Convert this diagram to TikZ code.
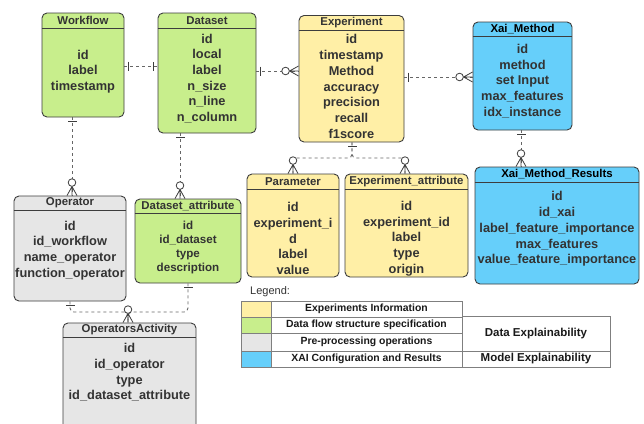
\documentclass[tikz,border=0pt]{standalone}
\usepackage{fontspec}
\setmainfont{Liberation Sans}
\usetikzlibrary{fit,calc}
\definecolor{cyel}{HTML}{FFEFA6}
\definecolor{cgrn}{HTML}{C8EE8C}
\definecolor{cgry}{HTML}{E6E6E6}
\definecolor{cblu}{HTML}{66CFFA}
\definecolor{cedge}{HTML}{3D3D3D}
\definecolor{ctxt}{HTML}{333333}
\definecolor{cconn}{HTML}{666666}
\definecolor{ccell}{HTML}{7F7F7F}
\begin{document}
\begin{tikzpicture}[x=1bp,y=-1bp,
 ebox/.style={draw=cedge, line width=0.9bp, rounded corners=5bp, inner sep=0pt},
 sepline/.style={draw=cedge, line width=0.9bp},
 htext/.style={font=\fontsize{11.4bp}{13bp}\selectfont\bfseries, text=ctxt, inner sep=0pt},
 hblack/.style={htext, text=black},
 btext/.style={font=\fontsize{12.8bp}{15.7bp}\selectfont\bfseries, text=ctxt, align=center, inner sep=0pt},
 bsmall/.style={btext, font=\fontsize{11.6bp}{14bp}\selectfont\bfseries},
 conn/.style={draw=cconn, line width=0.9bp, dash pattern=on 3bp off 3bp},
 mk/.style={draw=cedge, line width=0.8bp, solid},
 onebar/.pic={\draw[mk] (4,-4.5)--(4,4.5);},
 zeromany/.pic={\draw[mk] (0,-5)--(9,0)--(0,5) (0,0)--(9,0); \draw[mk, fill=white] (13,0) circle (3.8);},
 cell/.style={draw=ccell, line width=0.8bp, inner sep=0pt},
 ltext/.style={font=\fontsize{10.4bp}{12bp}\selectfont\bfseries, text=black!90, inner sep=0pt},
 rtext/.style={font=\fontsize{11.5bp}{13bp}\selectfont\bfseries, text=black!90, inner sep=0pt}
]
\useasboundingbox (0,0) rectangle (644,423);
\clip (0,0) rectangle (644,423);
\fill[white] (0,0) rectangle (644,423);

% ---------- entities ----------
% Workflow
\node[ebox, fill=cgrn, fit={(42,13)(124,117)}] (wf) {};
\draw[sepline] (wf.west |- 0,28) -- (wf.east |- 0,28);
\node[htext] (wfh) at (83,20.5) {Workflow};
\node[btext] (wfb) at (83,71.5) {id\\label\\timestamp};

% Dataset
\node[ebox, fill=cgrn, fit={(158,13)(256,133)}] (ds) {};
\draw[sepline] (ds.west |- 0,28) -- (ds.east |- 0,28);
\node[htext] (dsh) at (207,20.5) {Dataset};
\node[btext] (dsb) at (207,78.5) {id\\local\\label\\n\_size\\n\_line\\n\_column};

% Experiment
\node[ebox, fill=cyel, fit={(299,15.5)(404,142)}] (ex) {};
\draw[sepline] (ex.west |- 0,30) -- (ex.east |- 0,30);
\node[htext] (exh) at (351.5,22.5) {Experiment};
\node[btext] (exb) at (351.5,86.5) {id\\timestamp\\Method\\accuracy\\precision\\recall\\f1score};

% Xai_Method
\node[ebox, fill=cblu, fit={(473,22)(572,130)}] (xm) {};
\draw[sepline] (xm.west |- 0,36) -- (xm.east |- 0,36);
\node[hblack] (xmh) at (522.5,29) {Xai\_Method};
\node[btext] (xmb) at (522.5,81) {id\\method\\set Input\\max\_features\\idx\_instance};

% Operator
\node[ebox, fill=cgry, fit={(14,196)(126,301)}] (op) {};
\draw[sepline] (op.west |- 0,210) -- (op.east |- 0,210);
\node[htext] (oph) at (70,203) {Operator};
\node[btext] (opb) at (70,250.5) {id\\id\_workflow\\name\_operator\\function\_operator};

% Dataset_attribute
\node[ebox, fill=cgrn, fit={(135,199)(241,283)}] (da) {};
\draw[sepline] (da.west |- 0,213) -- (da.east |- 0,213);
\node[htext] (dah) at (188,206) {Dataset\_attribute};
\node[bsmall] (dab) at (188,247) {id\\id\_dataset\\type\\description};

% Parameter
\node[ebox, fill=cyel, fit={(247,174)(339,277)}] (pa) {};
\draw[sepline] (pa.west |- 0,189) -- (pa.east |- 0,189);
\node[htext] (pah) at (293,181.5) {Parameter};
\node[btext] (pab) at (293,238.5) {id\\experiment\_i\\d\\label\\value};

% Experiment_attribute
\node[ebox, fill=cyel, fit={(345,174)(468,277)}] (ea) {};
\draw[sepline] (ea.west |- 0,189) -- (ea.east |- 0,189);
\node[htext] (eah) at (406.5,181.5) {Experiment\_attribute};
\node[btext] (eab) at (406.5,238.5) {id\\experiment\_id\\label\\type\\origin};

% Xai_Method_Results
\node[ebox, fill=cblu, fit={(475,167)(639,284)}] (xr) {};
\draw[sepline] (xr.west |- 0,182) -- (xr.east |- 0,182);
\node[hblack] (xrh) at (557,174.5) {Xai\_Method\_Results};
\node[btext] (xrb) at (557,229) {id\\id\_xai\\label\_feature\_importance\\max\_features\\value\_feature\_importance};

% OperatorsActivity
\node[ebox, fill=cgry, fit={(63,323)(196,432)}] (oa) {};
\draw[sepline] (oa.west |- 0,337) -- (oa.east |- 0,337);
\node[htext] (oah) at (129.5,330) {OperatorsActivity};
\node[btext] (oab) at (129.5,372.5) {id\\id\_operator\\type\\id\_dataset\_attribute};

% ---------- connectors ----------
\draw[conn] (wf.east |- 0,66) -- (ds.west |- 0,66);
\pic at (wf.east |- 0,66) {onebar};
\pic[rotate=180] at (ds.west |- 0,66) {onebar};

\draw[conn] (ds.east |- 0,71) -- (ex.west |- 0,71);
\pic at (ds.east |- 0,71) {onebar};
\pic[rotate=180] at (ex.west |- 0,71) {zeromany};

\draw[conn] (ex.east |- 0,77) -- (xm.west |- 0,77);
\pic at (ex.east |- 0,77) {onebar};
\pic[rotate=180] at (xm.west |- 0,77) {zeromany};

\draw[conn] (wf.south -| 72,0) -- (op.north -| 72,0);
\pic[rotate=-90] at (wf.south -| 72,0) {onebar};
\pic[rotate=90] at (op.north -| 72,0) {zeromany};

\draw[conn] (ds.south -| 180,0) -- (da.north -| 180,0);
\pic[rotate=-90] at (ds.south -| 180,0) {onebar};
\pic[rotate=90] at (da.north -| 180,0) {zeromany};

\draw[conn, rounded corners=4bp] (ex.south -| 352,0) -- (352,158) -- (293,158) -- (pa.north -| 293,0);
\draw[conn, rounded corners=4bp] (ex.south -| 352,0) -- (352,158) -- (405,158) -- (ea.north -| 405,0);
\pic[rotate=-90] at (ex.south -| 352,0) {onebar};
\pic[rotate=90] at (pa.north -| 293,0) {zeromany};
\pic[rotate=90] at (ea.north -| 405,0) {zeromany};

\draw[conn] (xm.south -| 521,0) -- (xr.north -| 521,0);
\pic[rotate=-90] at (xm.south -| 521,0) {onebar};
\pic[rotate=90] at (xr.north -| 521,0) {zeromany};

\draw[conn, rounded corners=4bp] (op.south -| 70,0) -- (70,312) -- (128,312) -- (oa.north -| 128,0);
\draw[conn, rounded corners=4bp] (da.south -| 188,0) -- (188,312) -- (128,312) -- (oa.north -| 128,0);
\pic[rotate=-90] at (op.south -| 70,0) {onebar};
\pic[rotate=-90] at (da.south -| 188,0) {onebar};
\pic[rotate=90] at (oa.north -| 128,0) {zeromany};

% ---------- legend ----------
\node[font=\fontsize{11bp}{13bp}\selectfont, text=ctxt, anchor=west, inner sep=0pt] (lg) at (250,292) {Legend:};
\node[cell, fill=cyel, fit={(241,301)(271,317)}] (lc1) {};
\node[cell, fill=cgrn, fit={(241,317)(271,333)}] (lc2) {};
\node[cell, fill=cgry, fit={(241,333)(271,351)}] (lc3) {};
\node[cell, fill=cblu, fit={(241,351)(271,367)}] (lc4) {};
\node[cell, fit={(271,301)(462,317)}] (lt1) {};
\node[cell, fit={(271,317)(462,333)}] (lt2) {};
\node[cell, fit={(271,333)(462,351)}] (lt3) {};
\node[cell, fit={(271,351)(462,367)}] (lt4) {};
\node[cell, fit={(462,316)(610,351)}] (lr1) {};
\node[cell, fit={(462,351)(610,367)}] (lr2) {};
\node[ltext] at (lt1.center) {Experiments Information};
\node[ltext] at (lt2.center) {Data flow structure specification};
\node[ltext] at (lt3.center) {Pre-processing operations};
\node[ltext] at (lt4.center) {XAI Configuration and Results};
\node[rtext] at (lr1.center) {Data Explainability};
\node[rtext] at (lr2.center) {Model Explainability};
\end{tikzpicture}
\end{document}
